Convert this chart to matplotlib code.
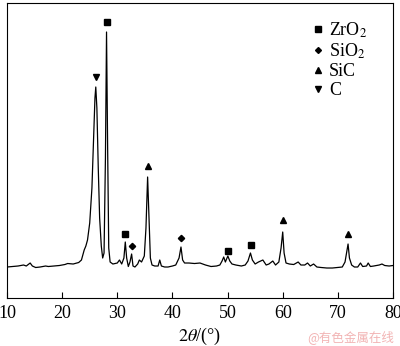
import matplotlib
matplotlib.use('Agg')
import matplotlib.pyplot as plt
from matplotlib.lines import Line2D

plt.rcParams['font.family'] = ['Liberation Serif', 'DejaVu Serif']
plt.rcParams['mathtext.fontset'] = 'stix'

# XRD-спектр: 2θ (°) и интенсивность (отн. ед.)
two_theta = [10.0, 11.0, 12.0, 13.0, 13.5, 14.2, 14.6, 15.2, 16.0, 17.0, 17.5, 18.5,
             19.5, 20.5, 21.0, 22.0, 23.0, 23.5, 24.0, 24.3, 24.6, 25.0, 25.4, 25.7,
             25.95, 26.1, 26.3, 26.55, 26.8, 27.1, 27.35, 27.6, 27.85, 28.05, 28.25,
             28.45, 28.7, 29.2, 30.0, 30.4, 30.8, 31.2, 31.45, 31.7, 32.0, 32.3, 32.6,
             32.85, 33.2, 33.7, 34.0, 34.4, 34.9, 35.2, 35.5, 35.75, 36.0, 36.3, 36.8,
             37.4, 37.7, 38.0, 38.6, 39.2, 40.0, 40.6, 41.2, 41.55, 41.85, 42.2, 43.0,
             44.0, 45.0, 46.0, 47.0, 48.0, 48.6, 49.0, 49.3, 49.6, 50.05, 50.4, 50.8,
             51.5, 52.5, 53.2, 53.7, 54.15, 54.5, 55.0, 55.6, 56.4, 57.0, 57.5, 58.2,
             58.7, 59.3, 59.7, 60.0, 60.25, 60.6, 61.2, 62.0, 62.8, 63.3, 64.0, 64.5,
             65.0, 65.6, 66.2, 67.0, 68.0, 69.0, 70.0, 70.8, 71.3, 71.6, 71.85, 72.1,
             72.5, 73.0, 73.6, 74.1, 74.5, 75.2, 75.5, 75.9, 76.5, 77.5, 78.0, 78.5,
             79.3, 80.0]
intensity = [31, 31.5, 32, 33, 32, 35, 32, 30.5, 31, 32, 31.5, 32,
             32.5, 33.5, 34.5, 34, 35.5, 38, 48, 52, 58, 75, 110, 160,
             200, 211, 190, 130, 80, 52, 40, 45, 140, 266, 150,
             50, 36, 34, 35, 38, 34, 40, 56, 40, 31.5, 36, 44,
             32, 31, 34, 38, 36, 42, 70, 121, 80, 40, 33, 32,
             32, 38, 32, 31, 31, 32, 33, 40, 51, 38, 35, 35,
             34.5, 35, 33, 31.5, 32, 33, 37, 41, 36, 42, 37, 34,
             33, 32, 33, 37, 45, 38, 34, 36, 38, 33, 34, 37,
             33, 36, 50, 66, 45, 35, 34, 33.5, 36, 33, 33, 35,
             32, 34, 31, 30.5, 30, 30, 30.5, 31, 36, 46, 54, 40,
             33, 31, 31, 35, 31.5, 32, 35, 31.5, 32, 33, 34, 32.5,
             32, 32.5]

# Метки фаз над пиками
zro2_x = [28.05, 31.45, 50.05, 54.2]
zro2_y = [276, 64, 47, 53]
sio2_x = [32.6, 41.6]
sio2_y = [52, 60]
sic_x = [35.5, 60.0, 71.85]
sic_y = [132, 78, 64]
c_x = [26.1]
c_y = [221]

fig = plt.figure(figsize=(4.0, 3.46), dpi=100)
ax = fig.add_axes([0.0175, 0.1387, 0.965, 0.8526])

ax.plot(two_theta, intensity, color='black', linewidth=0.9)
ax.plot(zro2_x, zro2_y, 's', color='black', markersize=4.5, linestyle='none')
ax.plot(sio2_x, sio2_y, 'D', color='black', markersize=3.2, linestyle='none')
ax.plot(sic_x, sic_y, '^', color='black', markersize=5, linestyle='none')
ax.plot(c_x, c_y, 'v', color='black', markersize=5, linestyle='none')

ax.set_xlim(10, 80)
ax.set_ylim(0, 295)
ax.set_xticks(range(10, 81, 10))
ax.set_yticks([])
ax.tick_params(axis='x', direction='in', length=4, width=0.8, pad=5, labelsize=13)
for s in ax.spines.values():
    s.set_linewidth(0.8)
ax.set_xlabel(r'$\mathit{2\theta}$/(°)', fontsize=13, labelpad=2.5)

handles = [
    Line2D([], [], marker='s', color='black', linestyle='none', markersize=4),
    Line2D([], [], marker='D', color='black', linestyle='none', markersize=3),
    Line2D([], [], marker='^', color='black', linestyle='none', markersize=4.5),
    Line2D([], [], marker='v', color='black', linestyle='none', markersize=4.5),
]
labels = ['ZrO$_2$', 'SiO$_2$', 'SiC', 'C']
ax.legend(handles, labels, loc='upper left', bbox_to_anchor=(0.792, 0.942), frameon=False,
          fontsize=13, handlelength=0.6, handletextpad=0.3, labelspacing=0.12,
          borderaxespad=0, borderpad=0)

fig.text(0.985, 0.005, '@有色金属在线', color='#f2b4b4', fontsize=9, ha='right', va='bottom',
         family=['Noto Sans CJK SC', 'DejaVu Sans'])

fig.savefig('out.png', dpi=100)
